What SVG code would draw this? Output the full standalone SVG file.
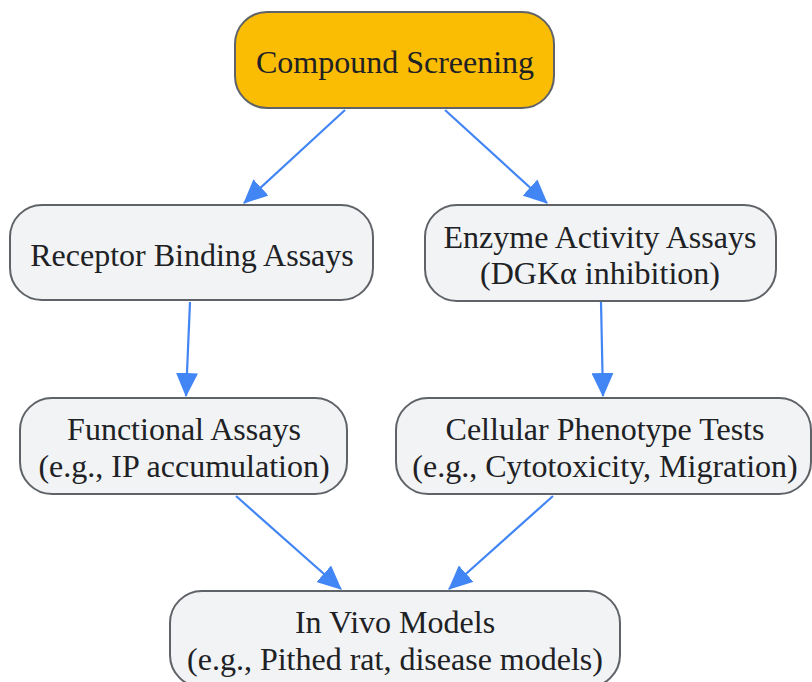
<svg xmlns="http://www.w3.org/2000/svg" width="812" height="682" viewBox="0 0 812 682">
<style>
.n{fill:#f1f3f4;stroke:#5f6368;stroke-width:2}
.y{fill:#fbbc04;stroke:#5f6368;stroke-width:2}
.t{font-family:"Liberation Serif","Times New Roman",serif;font-size:32px;fill:#202124;text-anchor:middle}
.e{stroke:#4285f4;stroke-width:2.2;fill:none;marker-end:url(#b)}
</style>
<defs>
<marker id="b" viewBox="0 0 24 22" refX="23" refY="11" markerWidth="24" markerHeight="22" markerUnits="userSpaceOnUse" orient="auto">
<path d="M0,0L24,11L0,22z" fill="#4285f4"/>
</marker>
</defs>
<g id="edges">
<path class="e" d="M345,110L244,203"/>
<path class="e" d="M445,110L547,203"/>
<path class="e" d="M190,302L186,396"/>
<path class="e" d="M601,302L603,396"/>
<path class="e" d="M236,496L341,589"/>
<path class="e" d="M553,496L449,589"/>
</g>
<g id="compound"><rect class="y" x="235" y="12" width="319" height="96" rx="32"/><text class="t" x="395" y="73">Compound Screening</text></g>
<g id="receptor"><rect class="n" x="10" y="205" width="363" height="95" rx="32"/><text class="t" x="192" y="266">Receptor Binding Assays</text></g>
<g id="enzyme"><rect class="n" x="425" y="205" width="351" height="96" rx="32"/><text class="t" x="600" y="248">Enzyme Activity Assays</text><text class="t" x="600" y="284">(DGKα inhibition)</text></g>
<g id="functional"><rect class="n" x="20" y="398" width="327" height="96" rx="32"/><text class="t" x="184" y="440">Functional Assays</text><text class="t" x="184" y="477">(e.g., IP accumulation)</text></g>
<g id="cellular"><rect class="n" x="396" y="398" width="415" height="96" rx="32"/><text class="t" x="605" y="440">Cellular Phenotype Tests</text><text class="t" x="605" y="477">(e.g., Cytotoxicity, Migration)</text></g>
<g id="invivo"><rect class="n" x="170" y="591" width="450" height="96" rx="32"/><text class="t" x="395" y="633">In Vivo Models</text><text class="t" x="395" y="670">(e.g., Pithed rat, disease models)</text></g>
</svg>
